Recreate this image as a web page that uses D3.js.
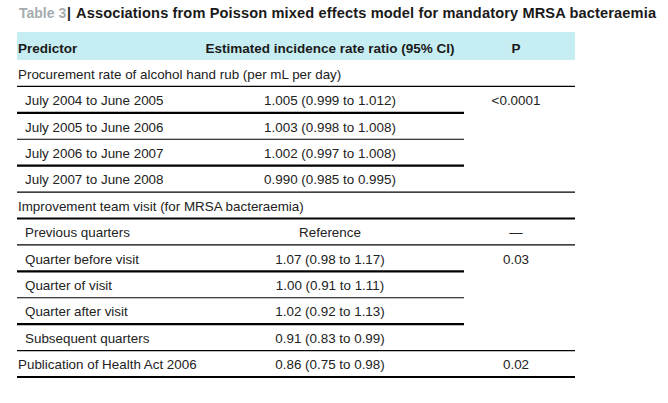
<!DOCTYPE html>
<html>
<head>
<meta charset="utf-8">
<script src="https://cdn.jsdelivr.net/npm/d3@7"></script>
<style>
  html, body { margin: 0; padding: 0; background: #fff; }
  svg { display: block; }
  text { font-family: "Liberation Sans", Arial, Helvetica, sans-serif; }
</style>
</head>
<body>
<div id="chart"></div>
<script>
// ---- data ----
const tableLabel = "Table 3";
const tableTitle = "Associations from Poisson mixed effects model for mandatory MRSA bacteraemia";
const headers = ["Predictor", "Estimated incidence rate ratio (95% CI)", "P"];
const predictors = [
  "Procurement rate of alcohol hand rub (per mL per day)",
  "July 2004 to June 2005",
  "July 2005 to June 2006",
  "July 2006 to June 2007",
  "July 2007 to June 2008",
  "Improvement team visit (for MRSA bacteraemia)",
  "Previous quarters",
  "Quarter before visit",
  "Quarter of visit",
  "Quarter after visit",
  "Subsequent quarters",
  "Publication of Health Act 2006"
];
const level = [0, 1, 1, 1, 1, 0, 1, 1, 1, 1, 1, 0];
const irrEstimates = ["", "1.005", "1.003", "1.002", "0.990", "", "Reference", "1.07", "1.00", "1.02", "0.91", "0.86"];
const ciLower = ["", "0.999", "0.998", "0.997", "0.985", "", "", "0.98", "0.91", "0.92", "0.83", "0.75"];
const ciUpper = ["", "1.012", "1.008", "1.008", "0.995", "", "", "1.17", "1.11", "1.13", "0.99", "0.98"];
const pValues = ["", "<0.0001", "", "", "", "", "\u2014", "0.03", "", "", "", "0.02"];
// rows sharing a P cell (spanning P value)
const pGroup = [0, 1, 1, 1, 1, 2, 3, 4, 4, 4, 4, 5];

// ---- layout ----
const W = 668, H = 403;
const left = 17, right = 575;
const headTop = 32, headBottom = 60, tableBottom = 377;
const bodySize = 13.4;

const svg = d3.select("#chart").append("svg")
  .attr("width", W).attr("height", H);

const idx = d3.range(predictors.length);
const y = d3.scaleBand().domain(idx).range([headBottom, tableBottom]).padding(0);
const col = d3.scaleOrdinal().domain(["pred", "irr", "p"]).range([left, 330, 516]);
const indentX = d3.scaleOrdinal().domain([0, 1]).range([18, 25]);

// title
svg.append("text")
  .attr("x", 19).attr("y", 18)
  .attr("font-size", 14).attr("font-weight", "bold").attr("fill", "#a4acaf")
  .text(tableLabel);
svg.append("text")
  .attr("x", 67).attr("y", 18)
  .attr("font-size", 14).attr("font-weight", "bold").attr("fill", "#1a1a1a")
  .text("|");
svg.append("text")
  .attr("x", 76).attr("y", 18)
  .attr("font-size", 14.6).attr("font-weight", "bold").attr("fill", "#1a1a1a")
  .attr("textLength", 580).attr("lengthAdjust", "spacing")
  .text(tableTitle);

// header band
svg.append("rect")
  .attr("x", left).attr("y", headTop)
  .attr("width", right - left).attr("height", headBottom - headTop)
  .attr("fill", "#c6eef2");

const hy = 53;
svg.append("text").attr("x", 18).attr("y", hy)
  .attr("font-size", 13.5).attr("font-weight", "bold").attr("fill", "#1a1a1a")
  .text(headers[0]);
svg.append("text").attr("x", col("irr")).attr("y", hy).attr("text-anchor", "middle")
  .attr("font-size", 13.5).attr("font-weight", "bold").attr("fill", "#1a1a1a")
  .text(headers[1]);
svg.append("text").attr("x", col("p")).attr("y", hy).attr("text-anchor", "middle")
  .attr("font-size", 13.5).attr("font-weight", "bold").attr("fill", "#1a1a1a")
  .text(headers[2]);

// rows
const rows = svg.selectAll("g.row").data(idx).join("g").attr("class", "row");

rows.append("text")
  .attr("x", i => indentX(level[i]))
  .attr("y", i => y(i) + y.bandwidth() / 2 + 5.5)
  .attr("font-size", bodySize).attr("fill", "#222")
  .text(i => predictors[i]);

rows.append("text")
  .attr("x", col("irr"))
  .attr("y", i => y(i) + y.bandwidth() / 2 + 5.5)
  .attr("text-anchor", "middle")
  .attr("font-size", bodySize).attr("fill", "#222")
  .text(i => irrEstimates[i] === "" ? "" :
    (ciLower[i] === "" ? irrEstimates[i] : `${irrEstimates[i]} (${ciLower[i]} to ${ciUpper[i]})`));

rows.append("text")
  .attr("x", col("p"))
  .attr("y", i => y(i) + y.bandwidth() / 2 + 5.5)
  .attr("text-anchor", "middle")
  .attr("font-size", bodySize).attr("fill", "#222")
  .text(i => pValues[i]);

// rules under each row
rows.append("line")
  .attr("x1", left)
  .attr("x2", i => (i < idx.length - 1 && pGroup[i] === pGroup[i + 1]) ? 464 : right)
  .attr("y1", i => y(i) + y.bandwidth())
  .attr("y2", i => y(i) + y.bandwidth())
  .attr("stroke", "#000")
  .attr("stroke-width", i => i % 2 === 1 ? 2.2 : 1.2);
</script>
</body>
</html>
